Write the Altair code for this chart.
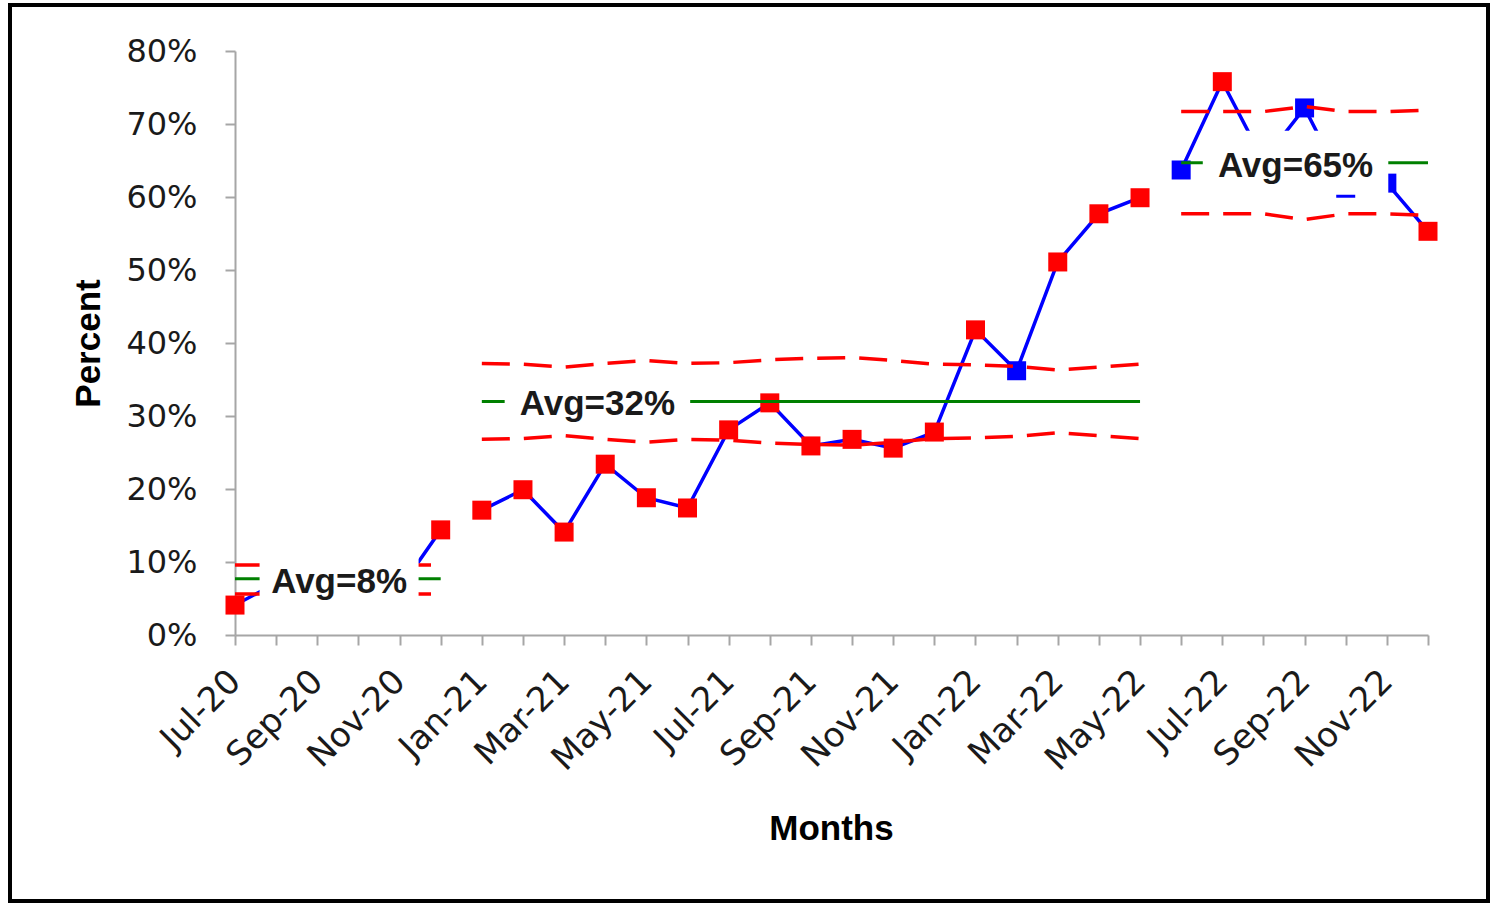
import altair as alt
import pandas as pd

# ---- data ----
months = ["Jul-20", "Aug-20", "Sep-20", "Oct-20", "Nov-20", "Dec-20",
          "Jan-21", "Feb-21", "Mar-21", "Apr-21", "May-21", "Jun-21",
          "Jul-21", "Aug-21", "Sep-21", "Oct-21", "Nov-21", "Dec-21",
          "Jan-22", "Feb-22", "Mar-22", "Apr-22", "May-22", "Jun-22",
          "Jul-22", "Aug-22", "Sep-22", "Oct-22", "Nov-22", "Dec-22"]
percent = [4.1, 7.1, 8.0, 8.5, 6.3, 14.4,
           17.1, 19.9, 14.1, 23.4, 18.8, 17.4,
           28.1, 31.8, 25.9, 26.8, 25.6, 27.8,
           41.8, 36.2, 51.1, 57.7, 59.9, 63.7,
           75.8, 65.0, 72.2, 61.2, 61.9, 55.3]
phase = [1] * 6 + [2] * 17 + [3] * 7
flag = ["signal"] * 19 + ["normal", "signal", "signal", "signal", "normal",
                         "signal", "normal", "normal", "normal", "normal", "signal"]
ucl = [9.6, 9.6, 9.6, 9.6, 9.6, 9.6,
       37.2, 37.1, 36.7, 37.2, 37.6, 37.2, 37.3, 37.7, 37.9, 38.0, 37.6, 37.1,
       37.0, 36.8, 36.3, 36.7, 37.1,
       71.7, 71.7, 71.7, 72.4, 71.7, 71.7, 71.9]
lcl = [5.6, 5.6, 5.6, 5.6, 5.6, 5.6,
       26.8, 26.9, 27.3, 26.8, 26.4, 26.8, 26.7, 26.3, 26.1, 26.0, 26.4, 26.9,
       27.0, 27.2, 27.7, 27.3, 26.9,
       57.7, 57.7, 57.7, 56.9, 57.7, 57.7, 57.5]
phase_avg = [7.7, 32.0, 64.7]
avg_labels = ["Avg=8%", "Avg=32%", "Avg=65%"]
label_pos = [2.53, 8.81, 25.78]   # month index where each label is centred

df = pd.DataFrame({
    "idx": list(range(len(months))),
    "month": months,
    "pct": percent,
    "phase": phase,
    "flag": flag,
    "ucl": ucl,
    "lcl": lcl,
    "avg": [phase_avg[p - 1] for p in phase],
})

box_h = 64
box_w = [26.5 * len(t) for t in avg_labels]
lab = pd.DataFrame({
    "pos": label_pos,
    "avg": phase_avg,
    "text": avg_labels,
    "shp": [f"M-1,-{box_h / w:.4f}H1V{box_h / w:.4f}H-1Z" for w in box_w],
    "sz": [w * w for w in box_w],
})

label_arr = "[" + ",".join(f"'{m}'" for m in months) + "]"

x_scale = alt.Scale(domain=[0, len(months) - 1], nice=False, zero=False)
y_scale = alt.Scale(domain=[0, 80], nice=False)

x_axis = alt.Axis(
    values=list(range(len(months))), grid=False,
    labelExpr=f"datum.value % 2 == 0 ? {label_arr}[datum.value] : ''",
    labelAngle=-45, labelAlign="right", labelBaseline="middle",
    labelFont="DejaVu Sans", labelFontSize=34, labelColor="#1a1a1a",
    labelPadding=31, labelOverlap=False,
    title="Months", titleFont="Liberation Sans", titleFontSize=35,
    titleFontWeight="bold", titleColor="black",
    titleX=596, titleY=193, titleAlign="center", titleBaseline="middle",
)
y_axis = alt.Axis(
    values=list(range(0, 81, 10)), grid=False,
    labelExpr="datum.value + '%'",
    labelFont="DejaVu Sans", labelFontSize=32, labelColor="#1a1a1a",
    labelPadding=28,
    title="Percent", titleFont="Liberation Sans", titleFontSize=35,
    titleFontWeight="bold", titleColor="black",
    titleX=-147, titleY=292, titleAngle=270,
    titleAlign="center", titleBaseline="middle",
)

X = alt.X("idx:Q", scale=x_scale, axis=x_axis)
base = alt.Chart(df)

data_line = base.mark_line(color="#0000FF", strokeWidth=3.5).encode(
    x=X, y=alt.Y("pct:Q", scale=y_scale, axis=y_axis), detail="phase:N")
points = base.mark_square(size=361, filled=True, opacity=1).encode(
    x="idx:Q", y="pct:Q",
    color=alt.Color("flag:N", scale=alt.Scale(domain=["signal", "normal"],
                                              range=["#FF0000", "#0000FF"]),
                    legend=None))
avg_line = base.mark_line(color="#008000", strokeWidth=3).encode(
    x="idx:Q", y="avg:Q", detail="phase:N")
ucl_line = base.mark_line(color="#FF0000", strokeWidth=3.5, strokeDash=[28, 14]).encode(
    x="idx:Q", y="ucl:Q", detail="phase:N")
lcl_line = base.mark_line(color="#FF0000", strokeWidth=3.5, strokeDash=[28, 14]).encode(
    x="idx:Q", y="lcl:Q", detail="phase:N")

lbase = alt.Chart(lab)
boxes = lbase.mark_point(filled=True, color="white", opacity=1, strokeWidth=0).encode(
    x="pos:Q", y="avg:Q",
    shape=alt.Shape("shp:N", scale=None),
    size=alt.Size("sz:Q", scale=None))
texts = lbase.mark_text(font="Liberation Sans", fontSize=35, fontWeight="bold",
                        color="#1a1a1a", baseline="middle", align="center", dy=3).encode(
    x="pos:Q", y="avg:Q", text="text:N")

frame = alt.Chart(alt.Data(values=[{"a": 1}])).mark_rect(
    fill=None, stroke="black", strokeWidth=4, clip=False).encode(
    x=alt.value(-225), x2=alt.value(1253), y=alt.value(-46), y2=alt.value(850))

chart = alt.layer(
    data_line, points, avg_line, ucl_line, lcl_line, boxes, texts, frame
).properties(
    width=1193, height=584,
    background="white",
    autosize=alt.AutoSizeParams(type="none"),
    padding={"left": 235, "top": 51, "right": 65, "bottom": 270},
).configure_view(stroke=None, strokeWidth=0).configure_axis(
    grid=False, domainColor="#A6A6A6", domainWidth=2,
    tickColor="#A6A6A6", tickWidth=2, tickSize=10,
)

chart.save("out.html", embed_options={"renderer": "svg", "actions": False})
